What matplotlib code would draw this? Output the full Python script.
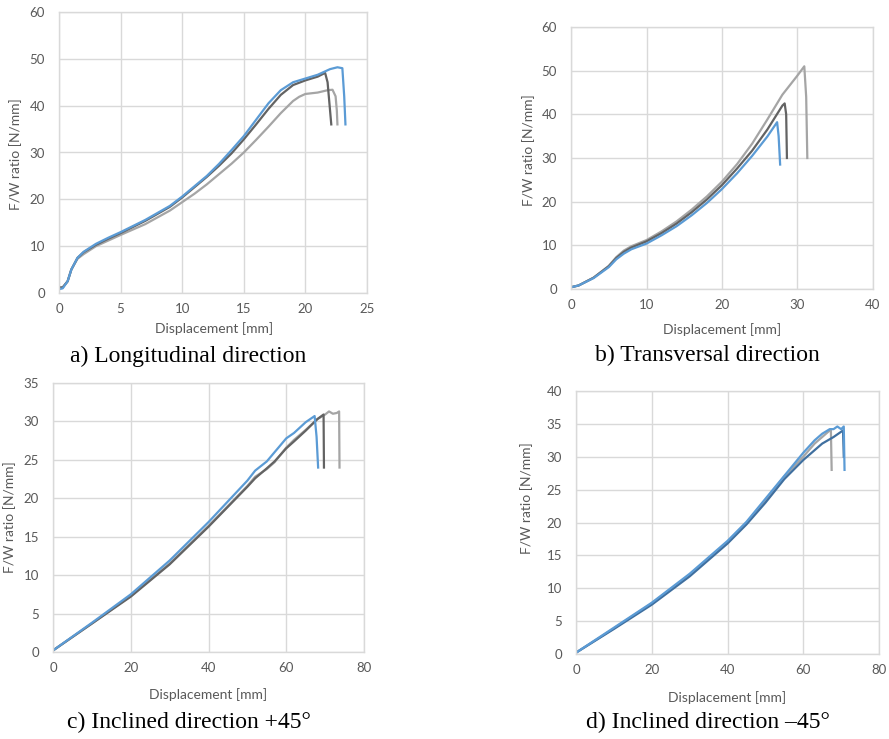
import matplotlib.pyplot as plt

# a) Longitudinal direction
a_blue_x = [0, 0.3, 0.7, 1.0, 1.5, 2.0, 3.0, 4.0, 5.0, 7.0, 9.0, 10.0, 12.0, 13.0, 14.0, 15.0, 16.0, 17.0, 18.0, 19.0, 20.0, 21.0, 22.0, 22.6, 23.0, 23.15, 23.25]
a_blue_y = [0.8, 1.0, 2.5, 5.0, 7.5, 8.8, 10.5, 11.8, 13.0, 15.6, 18.6, 20.6, 25.0, 27.6, 30.5, 33.5, 37.0, 40.5, 43.3, 45.0, 45.8, 46.6, 47.8, 48.2, 48.0, 42.0, 36.0]
a_dark_x = [0, 0.3, 0.7, 1.0, 1.5, 2.0, 3.0, 4.0, 5.0, 7.0, 9.0, 10.0, 12.0, 13.0, 14.0, 15.0, 16.0, 17.0, 18.0, 19.0, 20.0, 21.0, 21.6, 21.8, 22.1]
a_dark_y = [1.2, 1.2, 2.5, 5.0, 7.5, 8.7, 10.3, 11.6, 12.8, 15.4, 18.4, 20.4, 24.8, 27.2, 29.8, 32.8, 36.0, 39.3, 42.3, 44.4, 45.4, 46.2, 47.0, 45.0, 36.0]
a_light_x = [0, 0.3, 0.7, 1.0, 1.5, 2.0, 3.0, 4.0, 5.0, 7.0, 9.0, 10.0, 11.0, 12.0, 13.0, 14.0, 15.0, 16.0, 17.0, 18.0, 19.0, 19.5, 20.0, 21.0, 21.8, 22.2, 22.45, 22.55, 22.6]
a_light_y = [1.0, 1.2, 2.5, 5.0, 7.3, 8.3, 10.0, 11.2, 12.4, 14.7, 17.6, 19.4, 21.2, 23.2, 25.4, 27.6, 30.0, 32.7, 35.5, 38.4, 41.0, 41.9, 42.5, 42.8, 43.3, 43.4, 42.0, 39.0, 36.0]

# b) Transversal direction
b_blue_x = [0, 1, 3, 5, 6, 7, 8, 10, 12, 14, 16, 18, 20, 22, 24, 26, 27.3, 27.5, 27.7]
b_blue_y = [0.4, 0.8, 2.5, 5.0, 6.8, 8.1, 9.1, 10.4, 12.3, 14.4, 16.9, 19.7, 22.9, 26.5, 30.5, 34.9, 38.2, 35.0, 28.5]
b_dark_x = [0, 1, 3, 5, 6, 7, 8, 10, 12, 14, 16, 18, 20, 22, 24, 26, 28.0, 28.3, 28.5, 28.6]
b_dark_y = [0.4, 0.8, 2.6, 5.2, 7.1, 8.5, 9.5, 10.9, 12.8, 15.0, 17.6, 20.5, 23.8, 27.6, 31.7, 36.5, 42.0, 42.5, 40.0, 30.0]
b_light_x = [0, 1, 3, 5, 6, 7, 8, 10, 12, 14, 16, 18, 20, 22, 24, 26, 28, 30, 30.9, 31.15, 31.3]
b_light_y = [0.4, 0.8, 2.6, 5.3, 7.3, 8.8, 9.8, 11.2, 13.2, 15.5, 18.2, 21.2, 24.6, 28.6, 33.3, 38.8, 44.5, 48.9, 51.0, 44.0, 30.0]

# c) Inclined direction +45
c_blue_x = [0, 10, 20, 30, 40, 45, 50, 52, 55, 57, 60, 62, 65, 67.3, 67.8, 68.2]
c_blue_y = [0.2, 3.8, 7.5, 11.9, 16.9, 19.6, 22.3, 23.6, 24.8, 26.0, 27.8, 28.5, 29.9, 30.7, 28.0, 24.0]
c_dark_x = [0, 10, 20, 30, 40, 45, 50, 52, 55, 57, 60, 62, 65, 68, 69.6, 69.7]
c_dark_y = [0.2, 3.7, 7.2, 11.4, 16.3, 18.9, 21.5, 22.6, 23.9, 24.8, 26.5, 27.4, 28.8, 30.3, 30.9, 24.0]
c_light_x = [0, 10, 20, 30, 40, 45, 50, 52, 55, 57, 60, 62, 65, 68, 70, 71, 72, 73, 73.6, 73.7]
c_light_y = [0.2, 3.7, 7.3, 11.5, 16.4, 19.0, 21.6, 22.8, 23.8, 24.7, 26.6, 27.6, 28.9, 30.3, 30.9, 31.3, 31.0, 31.1, 31.3, 24.0]

# d) Inclined direction -45
d_blue_x = [0, 10, 20, 30, 40, 45, 50, 55, 60, 63, 65, 67, 68, 69, 70, 70.7, 70.9]
d_blue_y = [0.2, 4.0, 7.8, 12.2, 17.2, 20.1, 23.6, 27.1, 30.6, 32.5, 33.5, 34.2, 34.2, 34.6, 34.2, 34.6, 28.0]
d_navy_x = [0, 10, 20, 30, 40, 45, 50, 55, 60, 63, 65, 68, 70.5, 70.7]
d_navy_y = [0.2, 3.8, 7.5, 11.8, 16.8, 19.7, 23.0, 26.6, 29.5, 31.0, 32.0, 33.0, 34.0, 30.0]
d_light_x = [0, 10, 20, 30, 40, 45, 50, 55, 60, 63, 65, 67, 67.3, 67.5]
d_light_y = [0.2, 3.9, 7.7, 12.0, 17.0, 19.9, 23.4, 27.0, 30.0, 32.0, 33.0, 34.0, 34.0, 28.0]

BLUE = '#5b9bd5'
DARK = '#636363'
LIGHT = '#a5a5a5'
NAVY = '#3f6f9f'
GRID = '#d9d9d9'
TXT = '#595959'

W, H = 889, 739
fig = plt.figure(figsize=(W / 100, H / 100), dpi=100)
fig.patch.set_facecolor('white')


def px_axes(x0, y0, x1, y1):
    # pixel box (left, top, right, bottom) -> figure fraction
    return fig.add_axes([x0 / W, 1 - y1 / H, (x1 - x0) / W, (y1 - y0) / H])


def style(ax, xmax, xstep, ymax, ystep):
    ax.set_xlim(0, xmax)
    ax.set_ylim(0, ymax)
    ax.set_xticks(range(0, xmax + 1, xstep))
    ax.set_yticks(range(0, ymax + 1, ystep))
    ax.grid(True, color=GRID, linewidth=1)
    ax.set_axisbelow(True)
    for s in ax.spines.values():
        s.set_color(GRID)
        s.set_linewidth(1)
    ax.tick_params(length=0, labelsize=9.5, labelcolor=TXT)
    ax.tick_params(axis='x', pad=7)
    ax.tick_params(axis='y', pad=10)
    for lab in ax.get_xticklabels() + ax.get_yticklabels():
        lab.set_fontfamily('Lato')


def ptext(x, y, s, **kw):
    fig.text(x / W, 1 - y / H, s, **kw)


lab_kw = dict(fontsize=10, color=TXT, family='Lato', ha='center', va='center')
cap_kw = dict(fontsize=17, color='black', family='Liberation Serif', ha='center', va='center')

# panel a
ax = px_axes(59, 12, 367, 293)
style(ax, 25, 5, 60, 10)
ax.plot(a_light_x, a_light_y, color=LIGHT, lw=1.6)
ax.plot(a_dark_x, a_dark_y, color=DARK, lw=1.6)
ax.plot(a_blue_x, a_blue_y, color=BLUE, lw=1.6)
ptext(16, 154, 'F/W ratio [N/mm]', rotation=90, **lab_kw)
ptext(214, 329, 'Displacement [mm]', **lab_kw)
ptext(188, 356, 'a) Longitudinal direction', **cap_kw)

# panel b
ax = px_axes(571, 27, 873, 289)
style(ax, 40, 10, 60, 10)
ax.plot(b_light_x, b_light_y, color=LIGHT, lw=1.6)
ax.plot(b_dark_x, b_dark_y, color=DARK, lw=1.6)
ax.plot(b_blue_x, b_blue_y, color=BLUE, lw=1.6)
ptext(529, 150, 'F/W ratio [N/mm]', rotation=90, **lab_kw)
ptext(722, 330, 'Displacement [mm]', **lab_kw)
ptext(707, 355, 'b) Transversal direction', **cap_kw)

# panel c
ax = px_axes(53, 383, 364, 652)
style(ax, 80, 20, 35, 5)
ax.plot(c_light_x, c_light_y, color=LIGHT, lw=1.6)
ax.plot(c_dark_x, c_dark_y, color=DARK, lw=1.6)
ax.plot(c_blue_x, c_blue_y, color=BLUE, lw=1.6)
ptext(10, 517, 'F/W ratio [N/mm]', rotation=90, **lab_kw)
ptext(208, 695, 'Displacement [mm]', **lab_kw)
ptext(189, 722, 'c) Inclined direction +45°', **cap_kw)

# panel d
ax = px_axes(576, 391, 879, 654)
style(ax, 80, 20, 40, 5)
ax.plot(d_light_x, d_light_y, color=LIGHT, lw=1.6)
ax.plot(d_navy_x, d_navy_y, color=NAVY, lw=1.6)
ax.plot(d_blue_x, d_blue_y, color=BLUE, lw=1.6)
ptext(527, 498, 'F/W ratio [N/mm]', rotation=90, **lab_kw)
ptext(727, 698, 'Displacement [mm]', **lab_kw)
ptext(708, 722, 'd) Inclined direction \u201345°', **cap_kw)

fig.savefig('out.png', dpi=100)
